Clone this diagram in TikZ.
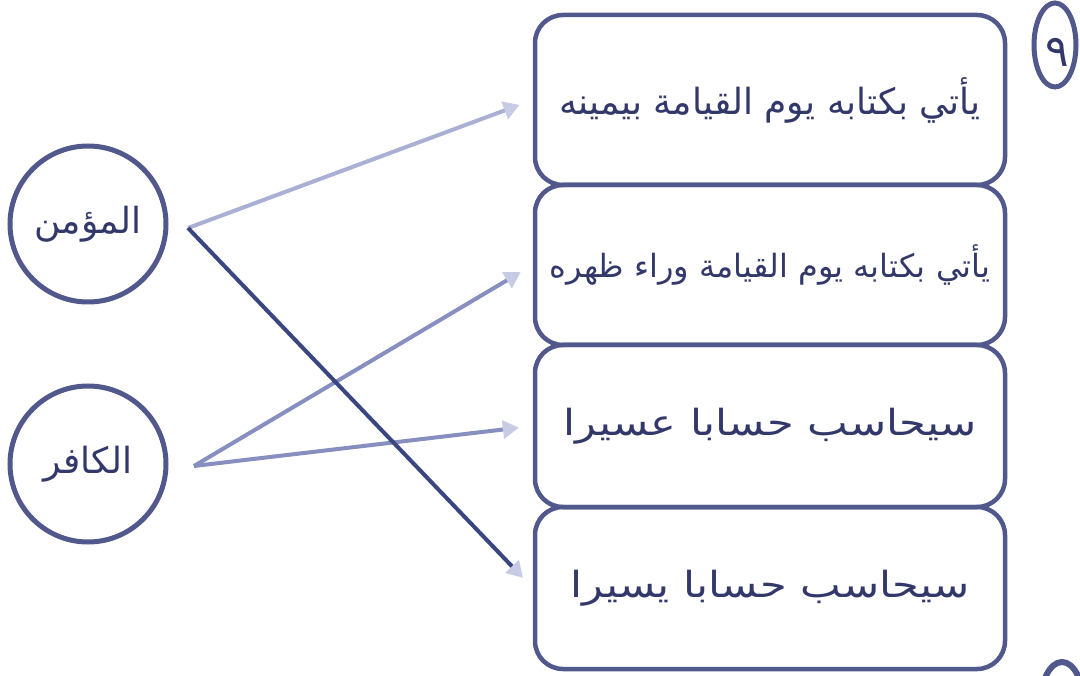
\documentclass[tikz,border=0pt]{standalone}
\usepackage{fontspec}
\newfontfamily\arabicfont[Script=Arabic]{DejaVu Sans}
\TeXXeTstate=1
\usetikzlibrary{arrows.meta}
\definecolor{boxc}{RGB}{80,88,140}
\definecolor{txtc}{RGB}{50,56,105}
\definecolor{lightln}{RGB}{170,175,212}
\definecolor{midln}{RGB}{135,142,192}
\definecolor{darkln}{RGB}{58,70,128}
\definecolor{tipc}{RGB}{200,203,228}
\begin{document}
\begin{tikzpicture}[x=1pt,y=-1pt,
  card/.style={draw=boxc, line width=4.5pt, rounded corners=28pt,
    minimum width=470pt, inner sep=0pt, text=txtc,
    font=\arabicfont\fontsize{36}{42}\selectfont},
  person/.style={draw=boxc, line width=5pt, circle, minimum size=156pt,
    inner sep=0pt, text=txtc, font=\arabicfont\fontsize{36}{42}\selectfont},
  link/.style={line width=4pt,
    -{Triangle[length=16pt,width=18pt,color=tipc]},
    shorten >=14pt}
]
\useasboundingbox (0,0) rectangle (1080,676);
\clip (0,0) rectangle (1080,676);
\fill[white] (0,0) rectangle (1080,676);

% boxes
\node[card, minimum height=170pt] (b1) at (770,100) {\beginR يأتي بكتابه يوم القيامة بيمينه\endR};
\node[card, minimum height=160pt] (b2) at (770,265) {\fontsize{32}{38}\selectfont\beginR يأتي بكتابه يوم القيامة وراء ظهره\endR};
\node[card, minimum height=162pt] (b3) at (770,426) {\scalebox{1.2}[1]{\beginR سيحاسب حسابا عسيرا\endR}};
\node[card, minimum height=162pt] (b4) at (770,588) {\scalebox{1.2}[1]{\beginR سيحاسب حسابا يسيرا\endR}};

% circles
\node[person] (m) at (88,224) {\beginR المؤمن\endR};
\node[person] (k) at (88,464) {\beginR الكافر\endR};
\coordinate (ma) at (188,228);
\coordinate (ka) at (194,466);

% connectors
\draw[link, lightln] (ma) -- (b1.west);
\draw[link, midln] (ka) -- (b2.west);
\draw[link, midln] (ka) -- (b3.west);
\draw[link, darkln] (ma) -- (b4.west);

% question numbers
\draw[boxc, line width=5pt] (1055,45) ellipse [x radius=21, y radius=42];
\node[text=txtc, font=\arabicfont\fontsize{44}{50}\selectfont] (q) at (1057,52) {٩};
\draw[boxc, line width=6pt] (1062,706) ellipse [x radius=22, y radius=44];
\end{tikzpicture}
\end{document}
